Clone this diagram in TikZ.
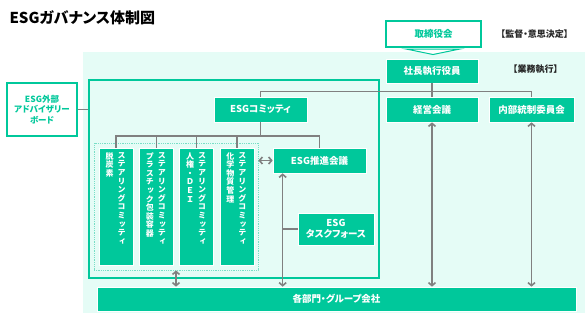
\documentclass[tikz,border=0pt]{standalone}
\usepackage{fontspec}
\setmainfont[RawFeature=+palt]{Noto Sans CJK JP}
\newfontfamily\tatefont[RawFeature=+vert]{Noto Sans CJK JP}
\usetikzlibrary{arrows.meta,positioning}
\definecolor{esggreen}{RGB}{0,200,155}
\definecolor{esgmint}{RGB}{229,252,246}
\definecolor{esggray}{RGB}{128,128,128}
\definecolor{esgdot}{RGB}{120,222,198}
\ExplSyntaxOn
\NewDocumentCommand\tate{m}{\vbox{\lineskiplimit=-10pt\baselineskip=8.6pt
  \exp_args:No \tl_map_inline:nn {#1} {\hbox~to~9pt{\hss ##1\hss}}}}
\ExplSyntaxOff

\begin{document}
\begin{tikzpicture}[x=1pt,y=-1pt,>={Straight Barb[length=3pt,width=7pt]},
  gbox/.style={fill=esggreen,draw=white,line width=0.7pt,text=white,inner sep=0pt,
    font=\bfseries\fontsize{9.5}{11}\selectfont,align=center},
  wbox/.style={fill=white,draw=esggreen,line width=1.5pt,text=esggreen,inner sep=0pt,
    font=\bfseries\fontsize{9.5}{11}\selectfont,align=center},
  conn/.style={draw=esggray,line width=1.6pt},
  tag/.style={text=black!85,font=\bfseries\fontsize{9}{11}\selectfont}]
  \useasboundingbox (0,0) rectangle (587,317);
  \fill[esgmint] (83,52) rectangle (585,313);

  % title and top
  \node[anchor=west,font=\bfseries\fontsize{15}{17}\selectfont] (title) at (6,18) {ESGガバナンス体制図};
  \node[wbox,minimum width=95pt,minimum height=26pt] (tori) at (433.5,34) {取締役会};
  \draw[esggreen,fill=white,line width=1pt] (406,49) -- (460,49) -- (433,54.5) -- cycle;
  \node[tag] (kantoku) at (534.5,34) {【監督・意思決定】};
  \node[gbox,minimum width=92pt,minimum height=24pt] (shacho) at (432,71) {社長執行役員};
  \node[tag] (gyomu) at (535.5,69) {【業務執行】};
  \node[gbox,minimum width=92pt,minimum height=25pt] (keiei) at (432,109.5) {経営会議};
  \node[gbox,minimum width=85pt,minimum height=25pt] (naibu) at (531.5,109.5) {内部統制委員会};

  % ESG area
  \node[draw=esggreen,line width=1.5pt,minimum width=290pt,minimum height=198pt] (esgarea) at (234,179) {};
  \node[wbox,minimum width=70pt,minimum height=53pt,font=\bfseries\fontsize{8.5}{10.5}\selectfont]
    (board) at (42,109.5) {ESG外部\\アドバイザリー\\ボード};
  \node[gbox,minimum width=93pt,minimum height=25pt] (esgc) at (260.5,109.5) {ESGコミッティ};
  \node[draw=esgdot,densely dotted,line width=0.8pt,minimum width=164pt,minimum height=127pt] (stbox) at (176,206.5) {};
  \foreach \i/\sub in {1/脱炭素,2/プラスチック包装容器,3/人権・ＤＥＩ,4/化学物質管理}{
    \node[gbox,minimum width=34pt,minimum height=117pt] (st\i) at (116+40.3*\i-40.3,206.5) {};
    \node[anchor=north,text=white,inner sep=0pt,font=\tatefont\bfseries\fontsize{8}{8.6}\selectfont]
      at ([xshift=5.5pt,yshift=-4.5pt]st\i.north) {\tate{ステアリングコミッティ}};
    \node[anchor=north,text=white,inner sep=0pt,font=\tatefont\bfseries\fontsize{8}{8.6}\selectfont]
      at ([xshift=-6.5pt,yshift=-4.5pt]st\i.north) {\tate{\sub}};
  }
  \node[gbox,minimum width=93pt,minimum height=25pt] (suishin) at (319.5,160.5) {ESG推進会議};
  \node[gbox,minimum width=76pt,minimum height=32pt] (tf) at (336,229) {ESG\\タスクフォース};
  \node[gbox,minimum width=479pt,minimum height=24pt] (bumon) at (336.5,299) {各部門・グループ会社};

  % connectors
  \coordinate (top) at ([yshift=-8pt]shacho.south);
  \draw[conn] (shacho.south) -- (keiei.north);
  \draw[conn] (esgc.north) |- (naibu.north |- top) -- (naibu.north);
  \draw[conn] (board.east) -- (board.east -| esgarea.west);
  \coordinate (hub) at ([yshift=-13.5pt]esgc.south);
  \draw[conn] (esgc.south) -- (hub);
  \draw[conn] (st1.north) |- (hub) -| (suishin.north);
  \foreach \i in {2,3,4}
    \draw[conn] (st\i.north) -- (st\i.north |- hub);
  \draw[conn,<->] (suishin.west -| stbox.east) -- (suishin.west);
  \coordinate (sx) at ([xshift=10pt]suishin.south west);
  \draw[conn,<->] (sx) -- (sx |- bumon.north);
  \draw[conn] (tf.west) -- (tf.west -| sx);
  \draw[conn,<->] (stbox.south) -- (stbox.south |- bumon.north);
  \draw[conn,<->] (keiei.south) -- (keiei.south |- bumon.north);
  \draw[conn,<->] (naibu.south) -- (naibu.south |- bumon.north);
\end{tikzpicture}
\end{document}
